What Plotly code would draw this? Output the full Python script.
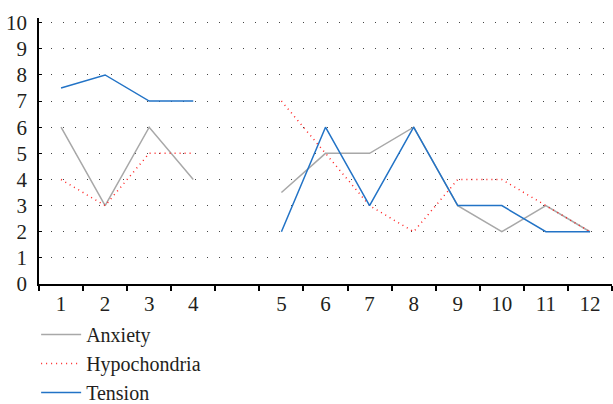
import plotly.graph_objects as go

categories = ["1", "2", "3", "4", " ", "5", "6", "7", "8", "9", "10", "11", "12"]
anxiety = [6, 3, 6, 4, None, 3.5, 5, 5, 6, 3, 2, 3, 2]
hypochondria = [4, 3, 5, 5, None, 7, 5, 3, 2, 4, 4, 3, 2]
tension = [7.5, 8, 7, 7, None, 2, 6, 3, 6, 3, 3, 2, 2]
y_ticks = list(range(0, 11))

FONT = "Liberation Serif"

fig = go.Figure()
fig.add_trace(go.Scatter(x=categories, y=anxiety, name="Anxiety", mode="lines",
                         line=dict(color="#a8a8a8", width=1.5), connectgaps=False))
fig.add_trace(go.Scatter(x=categories, y=hypochondria, name="Hypochondria", mode="lines",
                         line=dict(color="#ff2020", width=1.5, dash="1px,4px"), connectgaps=False))
fig.add_trace(go.Scatter(x=categories, y=tension, name="Tension", mode="lines",
                         line=dict(color="#2273c6", width=1.5), connectgaps=False))

fig.update_layout(
    width=613, height=404,
    margin=dict(l=39, r=1, t=18, b=120, autoexpand=False),
    paper_bgcolor="white", plot_bgcolor="white",
    font=dict(family=FONT, size=20, color="#231f20"),
    showlegend=True,
    legend=dict(orientation="v", x=-0.005, xanchor="left", y=-0.117, yanchor="top",
                font=dict(family=FONT, size=20, color="#231f20"),
                bgcolor="rgba(0,0,0,0)", itemwidth=40, tracegroupgap=0),
)
fig.update_xaxes(
    type="category", categoryorder="array", categoryarray=categories,
    range=[-0.5, len(categories) - 0.5], automargin=False,
    showline=True, linecolor="black", linewidth=1.5,
    ticks="outside", ticklen=5, tickcolor="black", tickwidth=1.5,
    tickson="boundaries", showgrid=False, zeroline=False,
    tickfont=dict(family=FONT, size=21, color="#231f20"),
)
fig.update_yaxes(
    range=[0, 10.18], tickvals=y_ticks, ticktext=[str(v) for v in y_ticks],
    automargin=False,
    showline=True, linecolor="black", linewidth=1.5,
    ticks="inside", ticklen=3, tickcolor="black", tickwidth=1,
    showgrid=True, gridcolor="#444444", gridwidth=1, griddash="1px,11px",
    zeroline=False, ticklabelstandoff=6,
    tickfont=dict(family=FONT, size=21, color="#231f20"),
)

fig.write_html("out.html", config={"displayModeBar": False},
               post_script="document.body.style.margin='0';document.body.style.overflow='hidden';")
